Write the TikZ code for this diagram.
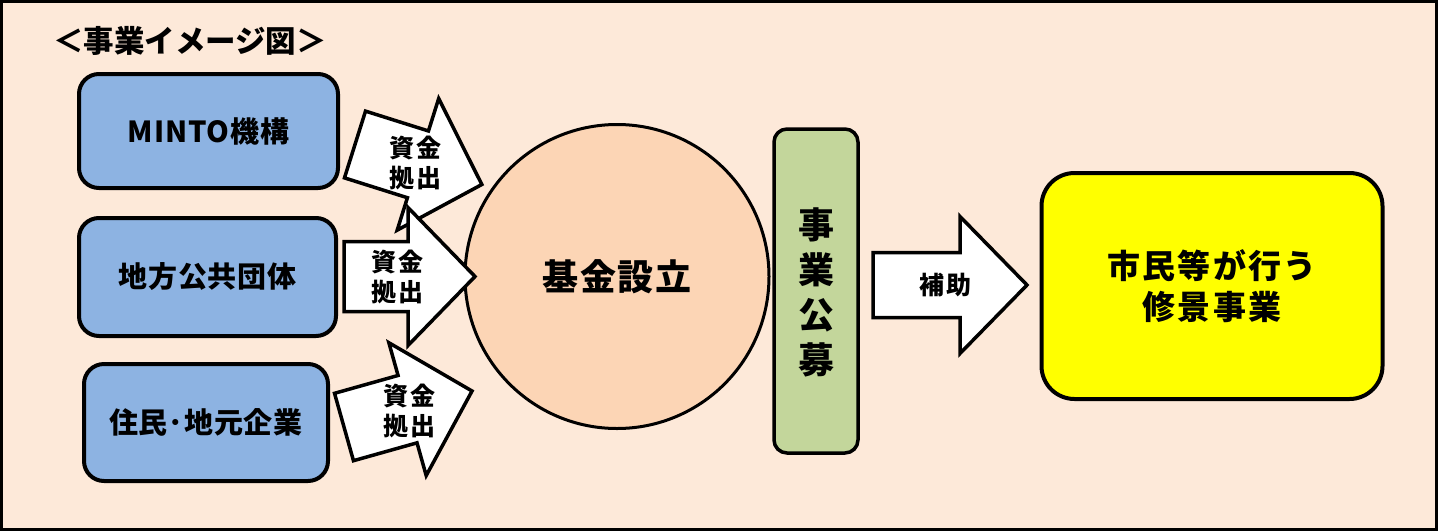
\documentclass[tikz,border=0pt]{standalone}
\usepackage{fontspec}
\setmainfont{Noto Sans CJK JP}
\definecolor{bgpeach}{HTML}{FDE9D9}
\definecolor{boxblue}{HTML}{8DB3E2}
\definecolor{circfill}{HTML}{FCD5B5}
\definecolor{barfill}{HTML}{C3D69B}
\definecolor{yelfill}{HTML}{FFFF00}
\newcommand\lsp[1]{\addfontfeature{LetterSpace=#1}}
% back-centre x, y, angle, body half, neck, head half, length
\newcommand\blkarrow[7]{%
  \draw[barrow, shift={(#1,#2)}, rotate=#3]
    (0,-#4) -- (#5,-#4) -- (#5,-#6) -- (#7,0) -- (#5,#6) -- (#5,#4) -- (0,#4) -- cycle;}
\begin{document}
\begin{tikzpicture}[x=1pt,y=-1pt,
  box/.style={draw, line width=4pt, fill=boxblue, rounded corners=20pt, inner sep=0pt},
  barrow/.style={draw, line width=3.5pt, fill=white, line join=miter},
  boxtext/.style={font=\bfseries\fontsize{29}{34}\selectfont\lsp{3}},
  arrtext/.style={align=center, inner sep=0pt, font=\bfseries\fontsize{25}{30}\selectfont\lsp{8}}]
\useasboundingbox (0,0) rectangle (1438,531);
\fill[bgpeach] (0,0) rectangle (1438,531);
\draw[line width=3pt] (1.5,1.5) rectangle (1436.5,529.5);

\node[inner sep=0pt, font=\bfseries\fontsize{30.5}{34}\selectfont] (title) at (190,41) {＜事業イメージ図＞};

\node[box, minimum width=259pt, minimum height=114pt, boxtext] (minto) at (208.5,131) {MINTO機構};
\node[box, minimum width=257pt, minimum height=118pt, boxtext] (chiho) at (207.5,277) {地方公共団体};
\node[box, minimum width=244pt, minimum height=117pt, boxtext] (jumin) at (206,422.5) {住民･地元企業};

\node[circle, draw, line width=3pt, fill=circfill, minimum size=304pt, inner sep=0pt,
      font=\bfseries\fontsize{36}{40}\selectfont\lsp{4}] (kikin) at (617,276.5) {基金設立};

\node[draw, line width=3.5pt, fill=barfill, rounded corners=13pt, minimum width=84pt,
      minimum height=324pt, inner sep=0pt] (koubo) at (816,291) {};
\node[align=center, inner sep=0pt, font=\bfseries\fontsize{36}{45}\selectfont] (kouboText) at (816,292) {事\\業\\公\\募};

\node[draw, line width=4pt, fill=yelfill, rounded corners=33pt, minimum width=341pt,
      minimum height=226pt, inner sep=0pt, align=center,
      font=\bfseries\fontsize{33}{41}\selectfont\lsp{7}] (shukei) at (1212,286) {市民等が行う\\修景事業};

% block arrows
\blkarrow{355}{144.5}{-17.5}{35}{66}{69}{133}
\blkarrow{344}{427}{15.7}{35}{66}{69}{133}
\blkarrow{344}{276.5}{0}{35}{64}{69}{131}
\blkarrow{873}{285}{0}{32.5}{87}{68.5}{154}

\node[arrtext] (a1) at (415,163) {資金\\拠出};
\node[arrtext] (a2) at (397,277) {資金\\拠出};
\node[arrtext] (a3) at (409,411) {資金\\拠出};
\node[arrtext] (hojo) at (945,285) {補助};
\end{tikzpicture}
\end{document}
